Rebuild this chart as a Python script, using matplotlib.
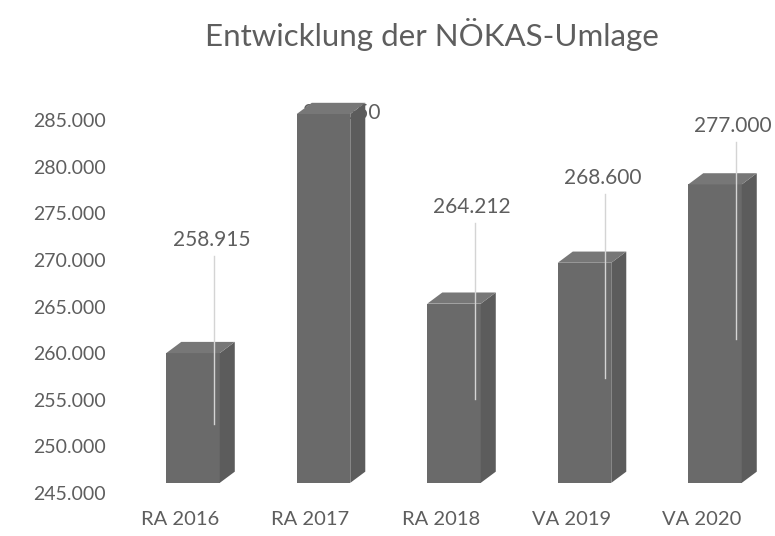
import matplotlib.pyplot as plt
from matplotlib.patches import Polygon
from matplotlib.transforms import ScaledTranslation
import numpy as np

# Data
categories = ['RA 2016', 'RA 2017', 'RA 2018', 'VA 2019', 'VA 2020']
values = [258.915, 284.550, 264.212, 268.600, 277.000]
value_labels = ['258.915', '284.550', '264.212', '268.600', '277.000']
y_ticks = [245, 250, 255, 260, 265, 270, 275, 280, 285]

# Style
plt.rcParams['font.family'] = ['Lato', 'DejaVu Sans']
text_color = '#5e5e5e'
front_color = '#6a6a6a'
side_color = '#5c5c5c'
top_color = '#777777'

fig = plt.figure(figsize=(7.75, 5.36), dpi=100)
ax = fig.add_axes([0.145, 0.080, 0.85, 0.696])

x = np.arange(len(categories))
width = 0.41
dx, dy = 0.115, 1.2   # fake 3D depth
lift = 1.1            # perspective shift of the bar floor
base = 245

ax.bar(x, np.array(values) - base, bottom=base + lift, width=width,
       color=front_color, clip_on=False, zorder=2)

for xi, v in zip(x, values):
    b, t = base + lift, v + lift
    side = Polygon([(xi + width / 2, b), (xi + width / 2 + dx, b + dy),
                    (xi + width / 2 + dx, t + dy), (xi + width / 2, t)],
                   closed=True, facecolor=side_color, edgecolor='none',
                   clip_on=False, zorder=2)
    top = Polygon([(xi - width / 2, t), (xi + width / 2, t),
                   (xi + width / 2 + dx, t + dy), (xi - width / 2 + dx, t + dy)],
                  closed=True, facecolor=top_color, edgecolor='none',
                  clip_on=False, zorder=2)
    ax.add_patch(side)
    ax.add_patch(top)

# value labels with leader lines (Excel 3D style)
label_lift = [13.2, 1.2, 11.5, 10.2, 7.4]
for xi, v, lab, ll in zip(x, values, value_labels, label_lift):
    ly = v + ll
    if ll > 3:
        ax.plot([xi + 0.16, xi + 0.16], [ly - 1.7, (base + v) / 2 + 0.5],
                color='#d4d4d4', lw=1.0, zorder=3, clip_on=False)
    ax.text(xi + 0.14, ly, lab, ha='center', va='center', fontsize=15,
            color=text_color, zorder=1, clip_on=False)

ax.set_xlim(-0.618, 4.43)
ax.set_ylim(245, 285)
ax.set_yticks(y_ticks)
ax.set_yticklabels([f'{t}.000' for t in y_ticks])
ax.set_xticks(x)
ax.set_xticklabels(categories)
ax.tick_params(axis='both', length=0, labelcolor=text_color)
ax.tick_params(axis='x', pad=13, labelsize=14.5)
ax.tick_params(axis='y', pad=5, labelsize=14)
offset = ScaledTranslation(-13 / 100, 0, fig.dpi_scale_trans)
for lbl in ax.get_xticklabels():
    lbl.set_transform(lbl.get_transform() + offset)
for s in ax.spines.values():
    s.set_visible(False)

fig.text(0.557, 0.935, 'Entwicklung der NÖKAS-Umlage', ha='center', va='center',
         fontsize=22.5, color=text_color)

fig.savefig('out.png', dpi=100)
